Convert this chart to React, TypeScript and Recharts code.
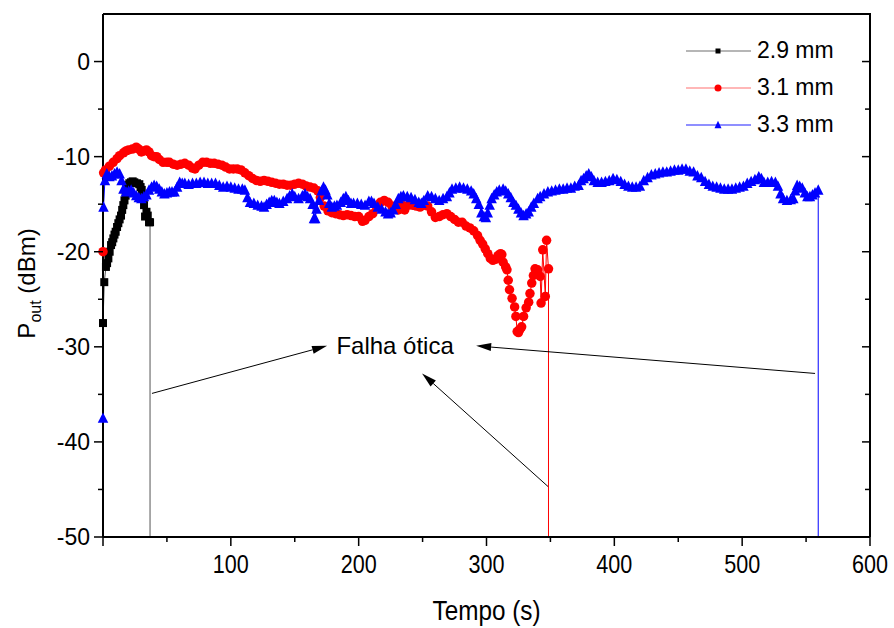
import React from "react";
import { LineChart, Line, XAxis, YAxis, ReferenceLine, ReferenceDot, Legend, Label } from "recharts";

// ─── Data ────────────────────────────────────────────────────────────────────

const t29 = [0, 1, 2.3, 3.2, 4.2, 5.2, 6.3, 7.2, 8.1, 9, 9.9, 11, 12, 13, 14.1, 15, 15.9, 16.8, 17.7, 18.5, 19.3, 20.6, 21.9, 23.2, 24.5, 26.5, 28.4, 29.4, 30.3, 31.2, 32.1, 32.9, 34, 35, 36, 36.8, 36.8];
const p29 = [-27.5, -23.2, -21.6, -21.2, -20.7, -20.0, -19.3, -19.0, -18.6, -18.2, -17.9, -17.4, -17.0, -16.6, -16.2, -15.6, -15.1, -14.6, -14.1, -13.5, -13.0, -12.8, -12.7, -12.6, -12.7, -12.8, -12.9, -13.2, -13.5, -14.3, -15.1, -16.3, -15.8, -16.2, -16.9, -16.9, -50];

const t31 = [0, 0.5, 2, 5, 8, 11, 13, 16, 18, 20, 23, 26, 28, 30, 32, 34, 36, 38, 40, 42, 44, 47, 50, 52, 55, 58, 61, 64, 67, 70, 72, 75, 78, 81, 84, 87, 90, 93, 96, 99, 102, 105, 108, 111, 114, 117, 120, 123, 126, 129, 132, 135, 138, 141, 144, 147, 150, 153, 156, 159, 162, 165, 168, 170, 173, 176, 179, 182, 185, 188, 191, 194, 197, 200, 203, 205, 208, 211, 214, 217, 220, 223, 226, 229, 231, 234, 236, 239, 242, 245, 248, 251, 254, 257, 260, 263, 266, 269, 272, 275, 278, 281, 284, 287, 290, 293, 295, 297, 299, 301, 303, 305, 307, 309, 311, 312, 313, 315, 316, 317, 318, 320, 322, 323, 324, 325, 326, 327.5, 329, 331, 333, 334, 335.4, 336.7, 338, 340, 342, 342.7, 344, 346, 347, 348.5, 348.5];
const p31 = [-20, -11.7, -11.4, -11.0, -10.6, -10.2, -9.9, -9.6, -9.4, -9.3, -9.2, -9.0, -9.2, -9.5, -9.4, -9.3, -9.5, -9.9, -10.0, -10.0, -10.3, -10.6, -10.6, -10.6, -10.8, -10.9, -10.8, -10.7, -10.9, -11.2, -11.3, -10.9, -10.6, -10.6, -10.7, -10.7, -10.8, -10.9, -11.1, -11.3, -11.3, -11.3, -11.4, -11.7, -12.0, -12.3, -12.5, -12.6, -12.5, -12.6, -12.7, -12.8, -12.9, -12.9, -13.0, -13.0, -12.9, -12.8, -12.9, -13.1, -13.2, -13.3, -13.6, -14.3, -15.2, -15.7, -15.9, -16.0, -16.1, -16.2, -16.1, -16.2, -16.3, -16.3, -16.8, -16.7, -16.3, -16.0, -15.3, -14.8, -14.6, -14.8, -15.2, -15.5, -15.6, -15.1, -15.6, -15.1, -15.1, -15.2, -15.3, -15.1, -15.2, -15.8, -16.4, -16.3, -16.1, -16.0, -16.3, -16.6, -16.9, -16.9, -17.3, -17.5, -17.8, -18.3, -18.8, -19.2, -19.7, -20.2, -20.7, -20.9, -20.8, -20.4, -20.2, -20.3, -21.1, -21.6, -21.9, -23.0, -24.0, -24.9, -25.8, -26.8, -28.4, -28.5, -28.2, -27.9, -26.8, -25.9, -25.3, -24.4, -23.3, -22.5, -21.8, -21.9, -22.6, -25.4, -19.8, -24.7, -18.8, -21.8, -50];

const t33 = [0, 0.4, 1.5, 3, 5, 7, 9, 11, 13, 14.5, 16, 18, 20, 22, 24, 26, 28, 30, 32, 34, 36, 38, 40, 42, 44, 46, 48, 50, 52, 54, 56, 58, 60, 62, 64, 67, 70, 73, 76, 79, 82, 85, 88, 91, 94, 97, 100, 103, 106, 109, 111, 113, 115, 118, 121, 124, 126, 128, 130, 132, 134, 136, 138, 141, 144, 146, 148, 150, 153, 156, 158, 160, 162, 164, 165, 166, 167, 169, 171, 172.5, 174, 175.5, 177, 179, 181, 183, 186, 188, 190, 192, 194, 196, 199, 202, 205, 208, 210, 212, 215, 218, 221, 223, 225, 227, 229, 231, 233, 235, 238, 241, 244, 247, 249, 251, 254, 257, 260, 263, 266, 269, 271, 273, 276, 279, 282, 285, 288, 290, 292, 294, 296, 298, 299.5, 301, 302.5, 304, 306, 308, 310, 313, 315, 317, 319, 321, 323, 325, 327, 329, 331, 333, 335, 337, 340, 342, 345, 348, 351, 354, 357, 360, 363, 366, 369, 372, 374, 376, 378, 380, 382, 384, 387, 390, 393, 396, 399, 402, 405, 408, 411, 414, 417, 420, 423, 426, 429, 432, 435, 438, 441, 444, 447, 450, 453, 456, 459, 462, 465, 468, 471, 474, 477, 480, 483, 486, 489, 492, 495, 498, 501, 504, 507, 510, 513, 515, 517, 520, 523, 526, 528, 530, 532, 535, 538, 540, 541.5, 543, 545, 547, 549, 551, 553, 555, 557, 559.5, 559.5];
const p33 = [-37.5, -15.3, -12.5, -11.8, -12.1, -12.0, -11.8, -11.6, -11.8, -12.5, -13.4, -13.7, -13.6, -13.5, -13.8, -14.1, -14.3, -14.4, -14.2, -14.0, -13.5, -13.2, -13.0, -13.1, -13.4, -13.7, -13.9, -13.8, -13.7, -13.7, -13.7, -13.2, -12.7, -12.8, -12.8, -12.9, -12.8, -12.8, -12.7, -12.7, -12.8, -12.8, -12.8, -13.0, -13.2, -13.1, -13.2, -13.3, -13.4, -13.4, -13.5, -14.3, -14.8, -14.9, -15.1, -15.2, -15.3, -15.0, -14.8, -14.6, -14.6, -14.8, -14.9, -14.7, -14.4, -14.1, -13.9, -14.2, -14.4, -14.1, -13.9, -14.2, -14.4, -15.0, -16.5, -16.5, -15.5, -14.6, -13.6, -13.2, -13.5, -14.0, -14.9, -15.3, -15.2, -15.1, -14.8, -14.4, -14.2, -14.6, -14.9, -14.9, -14.9, -15.0, -15.1, -14.7, -14.7, -14.9, -15.3, -15.5, -15.8, -16.0, -15.9, -15.6, -15.0, -14.4, -14.2, -14.1, -14.2, -14.3, -14.5, -14.8, -14.9, -14.6, -14.1, -14.2, -14.4, -14.6, -14.4, -14.2, -13.8, -13.4, -13.3, -13.2, -13.3, -13.4, -13.6, -13.9, -14.4, -15.0, -15.9, -16.3, -16.4, -15.9, -15.1, -14.4, -14.0, -13.7, -13.5, -13.4, -13.6, -13.9, -14.3, -14.8, -15.1, -15.5, -15.9, -16.2, -16.0, -15.8, -15.3, -14.9, -14.4, -14.2, -13.9, -13.7, -13.6, -13.5, -13.4, -13.4, -13.3, -13.3, -13.1, -13.0, -12.5, -12.3, -12.0, -11.8, -12.1, -12.5, -12.7, -12.7, -12.6, -12.5, -12.3, -12.4, -12.6, -12.9, -13.1, -13.2, -13.2, -13.1, -12.5, -12.2, -11.9, -11.8, -11.7, -11.6, -11.6, -11.5, -11.4, -11.4, -11.3, -11.3, -11.5, -11.6, -12.0, -12.2, -12.6, -12.9, -13.1, -13.2, -13.3, -13.4, -13.4, -13.4, -13.3, -13.2, -13.1, -12.8, -12.6, -12.4, -12.1, -12.3, -12.7, -12.7, -12.6, -12.7, -13.1, -13.9, -14.4, -14.6, -14.5, -14.4, -13.6, -13.0, -13.1, -13.3, -13.8, -14.2, -14.2, -14.0, -13.8, -13.5, -50];

const seriesNames = ["2.9 mm", "3.1 mm", "3.3 mm"];

const xDomain = [0, 600];
const yDomain = [-50, 5];
const xTicks = [0, 50, 100, 150, 200, 250, 300, 350, 400, 450, 500, 550, 600];
const yTicks = [-50, -45, -40, -35, -30, -25, -20, -15, -10, -5, 0];

// annotation: text anchor and arrows (tail -> head), in data units
const noteText = "Falha ótica";
const notePos = { x: 228.5, y: -29.8 };
const arrows = [
  [{ x: 38.3, y: -34.9 }, { x: 175.3, y: -29.9 }],
  [{ x: 348.2, y: -44.7 }, { x: 249.6, y: -32.8 }],
  [{ x: 557, y: -32.8 }, { x: 291.9, y: -29.9 }],
];

const rows = (t: number[], p: number[]) => t.map((x, i) => ({ t: x, p: p[i] }));
const data29 = rows(t29, p29);
const data31 = rows(t31, p31);
const data33 = rows(t33, p33);
const rightAxisData = rows([xDomain[0], xDomain[1]], [yDomain[1], yDomain[0]]);

// ─── Styles ──────────────────────────────────────────────────────────────────

const FONT = "'Liberation Sans', Arial, sans-serif";
const C29 = "#000000";
const C31 = "#ff0000";
const C33 = "#0000ff";

// plot box in page pixels (margins below must agree)
const BOX = { left: 103, top: 14, right: 870, bottom: 537 };

// ─── Markers ─────────────────────────────────────────────────────────────────

function Square({ cx, cy, s, fill }: { cx: number; cy: number; s: number; fill: string }) {
  return <rect x={cx - s / 2} y={cy - s / 2} width={s} height={s} fill={fill} />;
}
function Circle({ cx, cy, s, fill }: { cx: number; cy: number; s: number; fill: string }) {
  return <circle cx={cx} cy={cy} r={s / 2} fill={fill} />;
}
function Tri({ cx, cy, s, fill }: { cx: number; cy: number; s: number; fill: string }) {
  const h = s * 0.9;
  return <polygon points={`${cx},${cy - h / 2 - 1} ${cx - s / 2},${cy + h / 2} ${cx + s / 2},${cy + h / 2}`} fill={fill} />;
}

const makeDot = (Shape: any, s: number, fill: string) => (props: any) => {
  const { cx, cy, payload, index } = props;
  if (cx == null || cy == null || payload.p <= -50) return <g key={`d${index}`} />;
  return (
    <g key={`d${index}`}>
      <Shape cx={cx} cy={cy} s={s} fill={fill} />
    </g>
  );
};

const legendShapes: Record<string, { Shape: any; fill: string; line: string; s: number }> = {
  "2.9 mm": { Shape: Square, fill: C29, line: "#6e6e6e", s: 5 },
  "3.1 mm": { Shape: Circle, fill: C31, line: "#ff7070", s: 7 },
  "3.3 mm": { Shape: Tri, fill: C33, line: "#2020ff", s: 7 },
};

function LegendBox({ payload }: any) {
  const items = (payload || []).filter((e: any) => legendShapes[e.value]);
  return (
    <div style={{ fontFamily: FONT, fontSize: 23, color: "#000" }}>
      {items.map((e: any) => {
        const m = legendShapes[e.value];
        return (
          <div key={e.value} style={{ display: "flex", alignItems: "center", height: 37 }}>
            <svg width={68} height={20}>
              <line x1={3} x2={68} y1={10} y2={10} stroke={m.line} strokeWidth={1.2} />
              <m.Shape cx={35} cy={10} s={m.s} fill={m.fill} />
            </svg>
            <span style={{ marginLeft: 6 }}>{e.value}</span>
          </div>
        );
      })}
    </div>
  );
}

// ─── Axis ticks ──────────────────────────────────────────────────────────────

function LeftTick({ x, y, payload }: any) {
  const major = payload.value % 10 === 0;
  return (
    <g>
      <line x1={x - (major ? 9 : 5)} x2={x} y1={y} y2={y} stroke="#000" strokeWidth={1.5} />
      {major && (
        <text x={x - 13} y={y} dy="0.36em" textAnchor="end" fontSize={23} fontFamily={FONT} fill="#000">
          {payload.value}
        </text>
      )}
    </g>
  );
}

function RightTick({ x, y, payload }: any) {
  const major = payload.value % 10 === 0;
  return <line x1={x - (major ? 8 : 5)} x2={x} y1={y} y2={y} stroke="#000" strokeWidth={1.5} />;
}

function BottomTick({ x, y, payload }: any) {
  const major = payload.value % 100 === 0;
  return (
    <g>
      <line x1={x} x2={x} y1={y} y2={y + (major ? 9 : 5)} stroke="#000" strokeWidth={1.5} />
      {major && payload.value > 0 && (
        <text
          x={x}
          y={y + 27}
          dy="0.36em"
          textAnchor="middle"
          fontSize={25}
          fontFamily={FONT}
          fill="#000"
          textLength={36}
          lengthAdjust="spacingAndGlyphs"
        >
          {payload.value}
        </text>
      )}
    </g>
  );
}

function XTitle({ viewBox }: any) {
  const { x, y, width } = viewBox;
  return (
    <text
      x={x + width / 2}
      y={y + 83}
      textAnchor="middle"
      fontSize={27}
      fontFamily={FONT}
      fill="#000"
      textLength={108}
      lengthAdjust="spacingAndGlyphs"
    >
      Tempo (s)
    </text>
  );
}

function YTitle({ viewBox }: any) {
  const { y, height } = viewBox;
  const cy = y + height / 2 + 8;
  return (
    <text x={35} y={cy} transform={`rotate(-90 35 ${cy})`} textAnchor="middle" fontSize={24} fontFamily={FONT} fill="#000">
      P<tspan fontSize={16} dy={6}>out</tspan>
      <tspan dy={-6}> (dBm)</tspan>
    </text>
  );
}

function Arrow(props: any) {
  const { x1, y1, x2, y2 } = props;
  const a = Math.atan2(y2 - y1, x2 - x1);
  const L = 15;
  const W = 4;
  const bx = x2 - L * Math.cos(a);
  const by = y2 - L * Math.sin(a);
  const px = -Math.sin(a) * W;
  const py = Math.cos(a) * W;
  return (
    <g>
      <line x1={x1} y1={y1} x2={bx} y2={by} stroke="#000" strokeWidth={1} />
      <polygon points={`${x2},${y2} ${bx + px},${by + py} ${bx - px},${by - py}`} fill="#000" />
    </g>
  );
}

// ─── Chart ───────────────────────────────────────────────────────────────────

export default function App() {
  return (
    <div style={{ position: "absolute", left: 0, top: 0, width: 894, height: 628, background: "#fff" }}>
      <LineChart
        width={894}
        height={628}
        margin={{ top: BOX.top, right: 894 - BOX.right - 1, bottom: 0, left: 0 }}
      >
        <XAxis
          type="number"
          dataKey="t"
          domain={xDomain}
          ticks={xTicks}
          interval={0}
          height={628 - BOX.bottom}
          tickSize={0}
          tickMargin={0}
          tickLine={false}
          tick={BottomTick}
          axisLine={{ stroke: "#000", strokeWidth: 2 }}
        >
          <Label content={XTitle} />
        </XAxis>
        <YAxis
          type="number"
          domain={yDomain}
          ticks={yTicks}
          interval={0}
          width={BOX.left}
          tickSize={0}
          tickMargin={0}
          tickLine={false}
          tick={LeftTick}
          axisLine={{ stroke: "#000", strokeWidth: 2 }}
          allowDataOverflow
        >
          <Label content={YTitle} />
        </YAxis>
        <YAxis
          yAxisId="right"
          orientation="right"
          type="number"
          domain={yDomain}
          ticks={yTicks}
          interval={0}
          width={1}
          tickSize={0}
          tickMargin={0}
          tickLine={false}
          tick={RightTick}
          axisLine={false}
        />

        {/* hidden series on the right axis so its inward ticks are drawn */}
        <Line
          data={rightAxisData}
          dataKey="p"
          name="frame"
          yAxisId="right"
          stroke="none"
          dot={false}
          activeDot={false}
          legendType="none"
          isAnimationActive={false}
        />

        <Line
          data={data29}
          dataKey="p"
          name={seriesNames[0]}
          type="linear"
          stroke="#555"
          strokeWidth={1}
          dot={makeDot(Square, 8, C29)}
          activeDot={false}
          isAnimationActive={false}
        />
        <Line
          data={data31}
          dataKey="p"
          name={seriesNames[1]}
          type="linear"
          stroke={C31}
          strokeWidth={1}
          dot={makeDot(Circle, 9.5, C31)}
          activeDot={false}
          isAnimationActive={false}
        />
        <Line
          data={data33}
          dataKey="p"
          name={seriesNames[2]}
          type="linear"
          stroke={C33}
          strokeWidth={1}
          dot={makeDot(Tri, 10.5, C33)}
          activeDot={false}
          isAnimationActive={false}
        />

        {arrows.map((seg, i) => (
          <ReferenceLine key={i} segment={seg} shape={Arrow} ifOverflow="visible" />
        ))}
        <ReferenceDot
          x={notePos.x}
          y={notePos.y}
          r={0}
          ifOverflow="visible"
          shape={(p: any) => (
            <text x={p.cx} y={p.cy} dy="0.36em" textAnchor="middle" fontSize={24} fontFamily={FONT} fill="#000">
              {noteText}
            </text>
          )}
        />

        <Legend
          layout="horizontal"
          verticalAlign="middle"
          align="center"
          width={190}
          content={LegendBox}
          wrapperStyle={{ left: 683, top: 32, width: 190 }}
        />
      </LineChart>

      {/* top and right edges of the plot frame */}
      <div
        style={{
          position: "absolute",
          left: BOX.left,
          top: BOX.top - 1,
          width: BOX.right - BOX.left + 1,
          height: BOX.bottom - BOX.top + 1,
          borderTop: "2px solid #000",
          borderRight: "2px solid #000",
          boxSizing: "border-box",
          pointerEvents: "none",
        }}
      />
    </div>
  );
}
